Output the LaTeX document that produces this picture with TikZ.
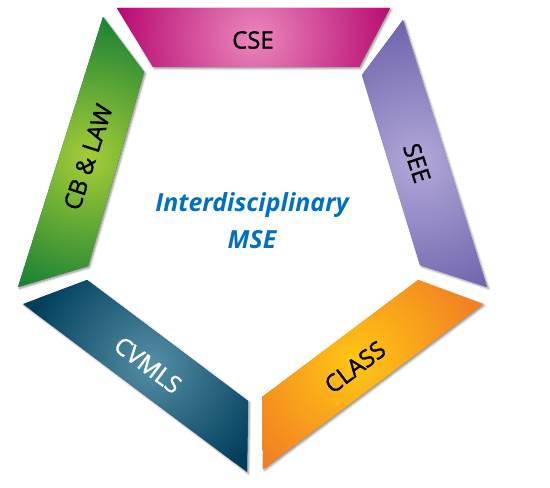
\documentclass[tikz,border=0pt]{standalone}
\usepackage{fontspec}
\setmainfont{Open Sans}
\newfontfamily\lblfont{Open Sans}[RawFeature={embolden=1.3}]
\usetikzlibrary{shadows.blur}

\definecolor{cseDark}{RGB}{180,0,108}
\definecolor{cseLight}{RGB}{234,135,188}
\definecolor{lawDark}{RGB}{18,125,52}
\definecolor{lawLight}{RGB}{165,205,55}
\definecolor{seeDark}{RGB}{106,96,170}
\definecolor{seeLight}{RGB}{178,168,216}
\definecolor{classDark}{RGB}{240,118,35}
\definecolor{classLight}{RGB}{255,198,20}
\definecolor{cvmlsDark}{RGB}{0,62,92}
\definecolor{cvmlsLight}{RGB}{85,142,165}
\definecolor{mseBlue}{RGB}{0,112,192}

\begin{document}
\begin{tikzpicture}[x=1bp,y=-1bp]
		\newcommand{\glow}{150} % radius of the light spot
		\newcommand{\lblsize}{24}

		% set the style of the segments and their labels
		\tikzset{
			seg/.style={
				blur shadow={shadow xshift=1.5bp, shadow yshift=-1.5bp,
					shadow blur steps=4, shadow opacity=45}
				},
			lbl/.style={
				font=\lblfont\fontsize{\lblsize}{28}\selectfont,
				text=black
				}
		}

		\useasboundingbox (0,0) rectangle (550,488);

		% segments
		\fill[cseDark, seg, path picture={\shade[inner color=cseLight, outer color=cseDark] (255,37) circle (\glow);}]
			(117,8) -- (390,8) -- (359,67) -- (153,67) -- cycle;
		\fill[lawDark, seg, path picture={\shade[inner color=lawLight, outer color=lawDark] (88,158) circle (\glow);}]
			(103,17) -- (144,72) -- (88,266) -- (18,287) -- cycle;
		\fill[seeDark, seg, path picture={\shade[inner color=seeLight, outer color=seeDark] (418,162) circle (\glow);}]
			(403,20) -- (487,287) -- (420,265) -- (362,75) -- cycle;
		\fill[classDark, seg, path picture={\shade[inner color=classLight, outer color=classDark] (356,362) circle (\glow);}]
			(418,280) -- (483,304) -- (263,469) -- (262,397) -- cycle;
		\fill[cvmlsDark, seg, path picture={\shade[inner color=cvmlsLight, outer color=cvmlsDark] (151,364) circle (130);}]
			(87,280) -- (248,401) -- (247,472) -- (23,304) -- cycle;

		% labels
		\node[lbl] (cse) at (253,40) {CSE};
		\node[lbl, rotate=72] (law) at (88,157) {CB \& LAW};
		\node[lbl, rotate=-72] (see) at (417,163) {SEE};
		\node[lbl, rotate=37] (class) at (355,367) {CLASS};
		\node[lbl, rotate=-37, text=white] (cvmls) at (148,365) {CVMLS};

		% centre
		\node[font=\fontsize{25}{37}\selectfont\bfseries\itshape, text=mseBlue, align=center] (mse) at (252,221) {Interdisciplinary\\MSE};

\end{tikzpicture}
\end{document}
